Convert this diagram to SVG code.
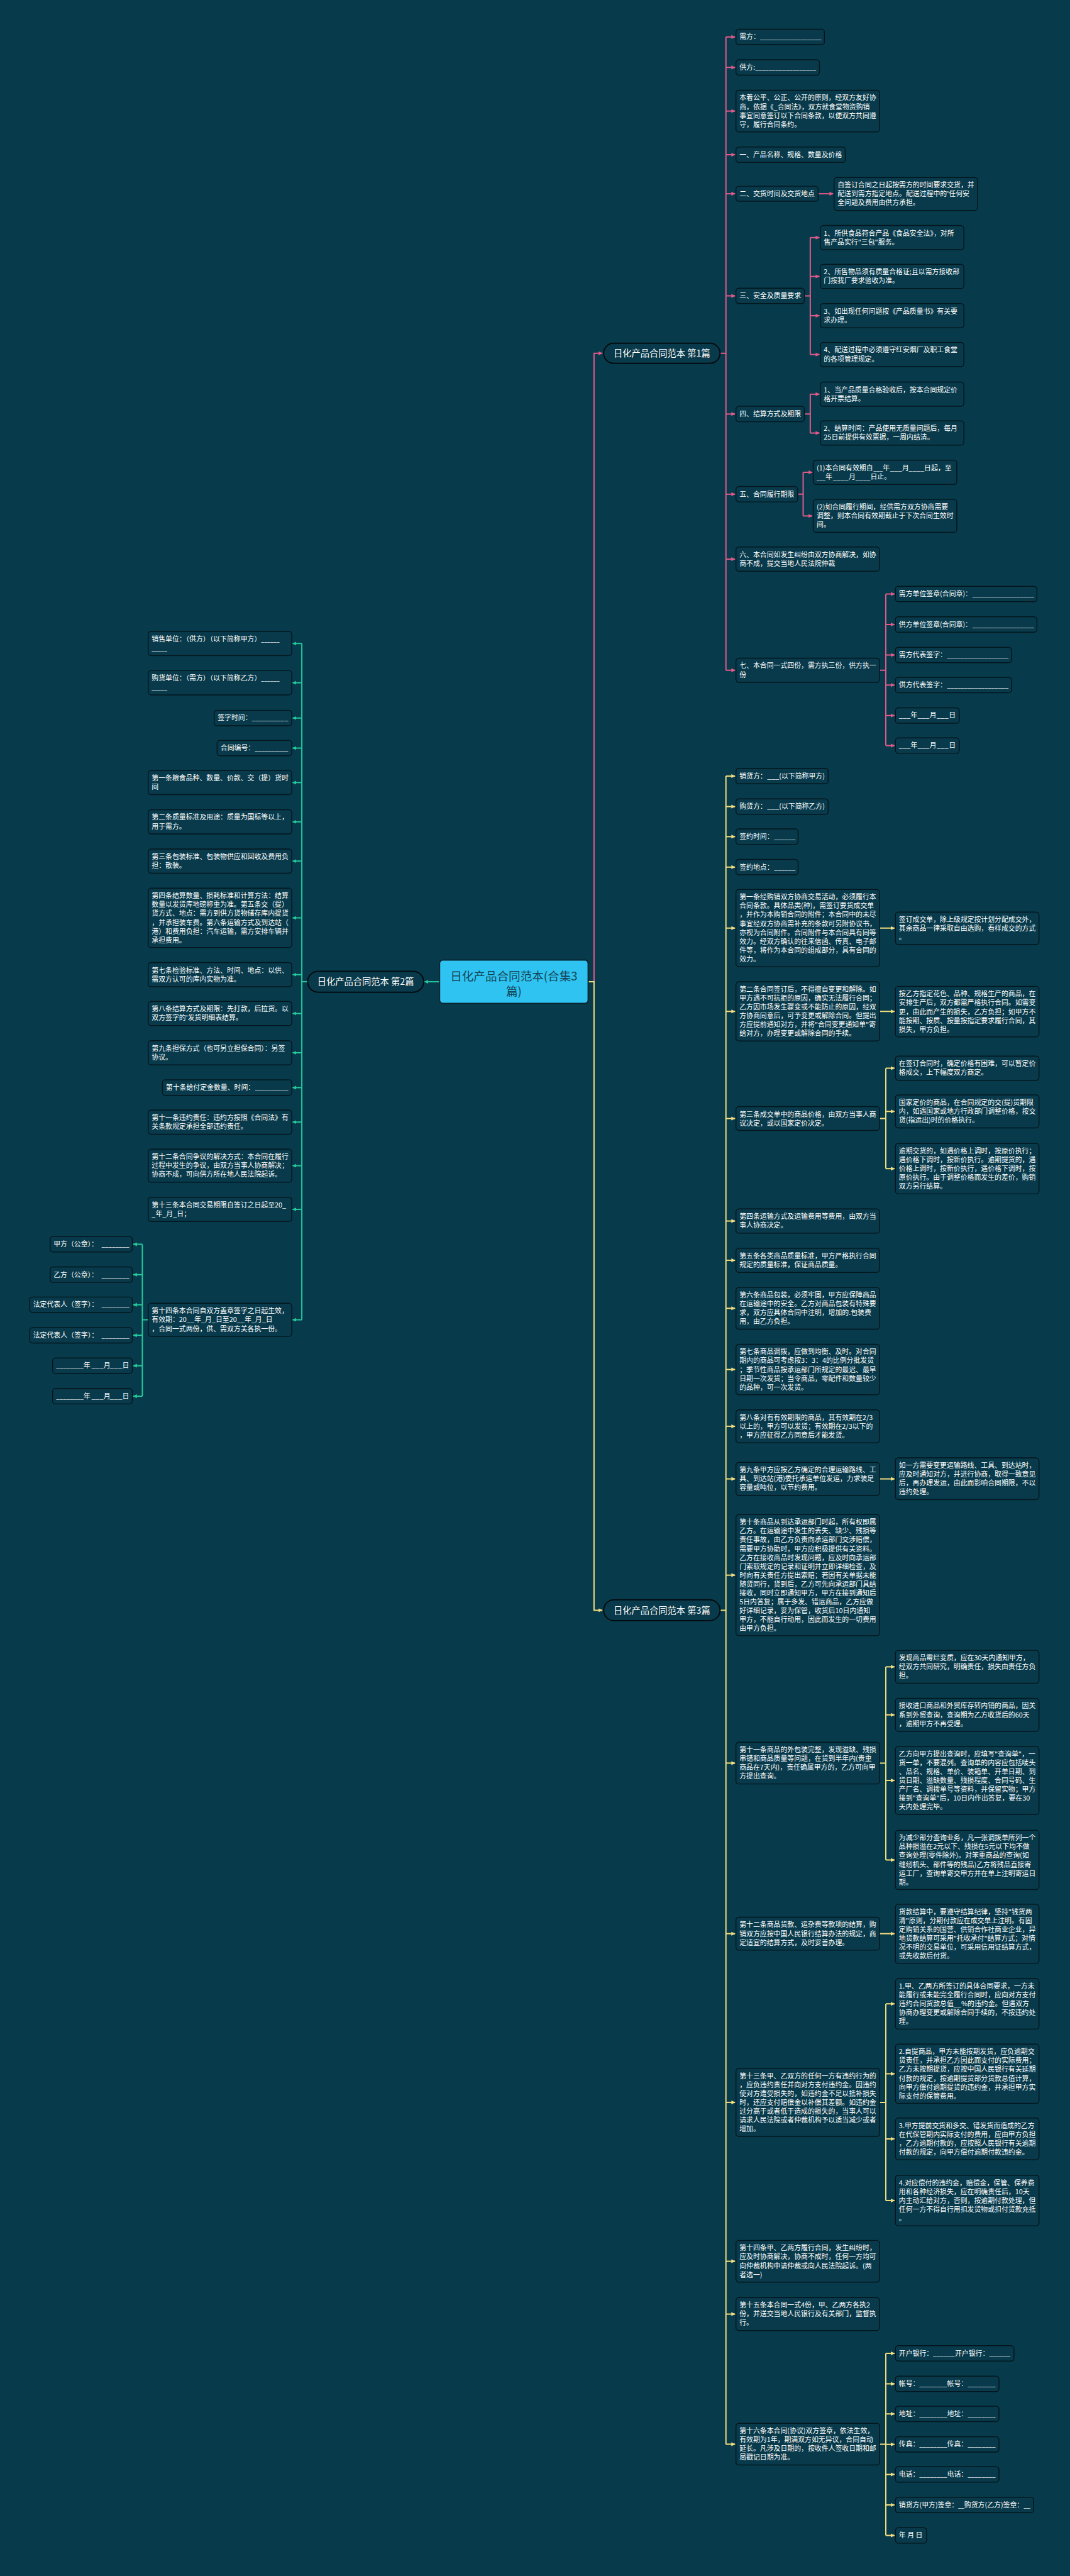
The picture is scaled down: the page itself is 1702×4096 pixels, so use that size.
<svg xmlns="http://www.w3.org/2000/svg" width="1702" height="4096" viewBox="0 0 1702 4096">
<style>
.n rect{fill:#083a4b;stroke:#03161d;stroke-width:2.2}
.n text{font-family:"Noto Sans CJK SC","Noto Sans",sans-serif;font-size:16.4px;fill:#ffffff}
.b rect{fill:#083a4b;stroke:#020c10;stroke-width:3}
.b text{font-family:"Noto Sans CJK SC","Noto Sans",sans-serif;font-size:21.5px;fill:#ffffff;text-anchor:middle}
.ct rect{fill:#2fc3f1;stroke:#0a2530;stroke-width:3}
.ct text{font-family:"Noto Sans CJK SC","Noto Sans",sans-serif;font-size:28px;fill:#154456;text-anchor:middle}
.lp{stroke:#e25a8a;stroke-width:3;fill:none}
.ly{stroke:#f3de7e;stroke-width:3;fill:none}
.lg{stroke:#25c99c;stroke-width:3;fill:none}
</style>
<defs>
<marker id="ap" markerUnits="userSpaceOnUse" viewBox="0 0 10 10" markerWidth="10" markerHeight="10" refX="9" refY="5" orient="auto"><path d="M0,0.5L10,5L0,9.5z" fill="#e25a8a"/></marker>
<marker id="ay" markerUnits="userSpaceOnUse" viewBox="0 0 10 10" markerWidth="10" markerHeight="10" refX="9" refY="5" orient="auto"><path d="M0,0.5L10,5L0,9.5z" fill="#f3de7e"/></marker>
<marker id="ag" markerUnits="userSpaceOnUse" viewBox="0 0 10 10" markerWidth="10" markerHeight="10" refX="9" refY="5" orient="auto"><path d="M0,0.5L10,5L0,9.5z" fill="#25c99c"/></marker>
</defs>
<rect x="0" y="0" width="1702" height="4096" fill="#073b4c"/>
<g transform="scale(0.664)">

<g id="connectors">
<path class="lp" d="M1409,2351H1423V846H1443" marker-end="url(#ap)"/>
<path class="lp" d="M1725,846H1739M1739,88.5V1605"/>
<path class="lp" d="M1739,88.5H1761" marker-end="url(#ap)"/>
<path class="lp" d="M1739,161.5H1761" marker-end="url(#ap)"/>
<path class="lp" d="M1739,266H1761" marker-end="url(#ap)"/>
<path class="lp" d="M1739,370.5H1761" marker-end="url(#ap)"/>
<path class="lp" d="M1739,464H1761" marker-end="url(#ap)"/>
<path class="lp" d="M1739,708.5H1761" marker-end="url(#ap)"/>
<path class="lp" d="M1739,991.5H1761" marker-end="url(#ap)"/>
<path class="lp" d="M1739,1183.5H1761" marker-end="url(#ap)"/>
<path class="lp" d="M1739,1339H1761" marker-end="url(#ap)"/>
<path class="lp" d="M1739,1605H1761" marker-end="url(#ap)"/>
<path class="lp" d="M1960,464H1996" marker-end="url(#ap)"/>
<path class="lp" d="M1927,708.5H1941M1941,569V849"/>
<path class="lp" d="M1941,569H1963" marker-end="url(#ap)"/>
<path class="lp" d="M1941,662H1963" marker-end="url(#ap)"/>
<path class="lp" d="M1941,756H1963" marker-end="url(#ap)"/>
<path class="lp" d="M1941,849H1963" marker-end="url(#ap)"/>
<path class="lp" d="M1927,991.5H1941M1941,944V1037"/>
<path class="lp" d="M1941,944H1963" marker-end="url(#ap)"/>
<path class="lp" d="M1941,1037H1963" marker-end="url(#ap)"/>
<path class="lp" d="M1911,1183.5H1924M1924,1131V1235.5"/>
<path class="lp" d="M1924,1131H1946" marker-end="url(#ap)"/>
<path class="lp" d="M1924,1235.5H1946" marker-end="url(#ap)"/>
<path class="lp" d="M2107,1605H2122M2122,1422.5V1785.5"/>
<path class="lp" d="M2122,1422.5H2143" marker-end="url(#ap)"/>
<path class="lp" d="M2122,1495.5H2143" marker-end="url(#ap)"/>
<path class="lp" d="M2122,1568.5H2143" marker-end="url(#ap)"/>
<path class="lp" d="M2122,1640.5H2143" marker-end="url(#ap)"/>
<path class="lp" d="M2122,1713.5H2143" marker-end="url(#ap)"/>
<path class="lp" d="M2122,1785.5H2143" marker-end="url(#ap)"/>
<path class="ly" d="M1409,2351H1423V3856H1443" marker-end="url(#ay)"/>
<path class="ly" d="M1725,3856H1739M1739,1858.5V5853"/>
<path class="ly" d="M1739,1858.5H1761" marker-end="url(#ay)"/>
<path class="ly" d="M1739,1931.5H1761" marker-end="url(#ay)"/>
<path class="ly" d="M1739,2003.5H1761" marker-end="url(#ay)"/>
<path class="ly" d="M1739,2076.5H1761" marker-end="url(#ay)"/>
<path class="ly" d="M1739,2222.5H1761" marker-end="url(#ay)"/>
<path class="ly" d="M1739,2422H1761" marker-end="url(#ay)"/>
<path class="ly" d="M1739,2678.5H1761" marker-end="url(#ay)"/>
<path class="ly" d="M1739,2924H1761" marker-end="url(#ay)"/>
<path class="ly" d="M1739,3018H1761" marker-end="url(#ay)"/>
<path class="ly" d="M1739,3133H1761" marker-end="url(#ay)"/>
<path class="ly" d="M1739,3279.5H1761" marker-end="url(#ay)"/>
<path class="ly" d="M1739,3415.5H1761" marker-end="url(#ay)"/>
<path class="ly" d="M1739,3541.5H1761" marker-end="url(#ay)"/>
<path class="ly" d="M1739,3772H1761" marker-end="url(#ay)"/>
<path class="ly" d="M1739,4222H1761" marker-end="url(#ay)"/>
<path class="ly" d="M1739,4630.5H1761" marker-end="url(#ay)"/>
<path class="ly" d="M1739,5034.5H1761" marker-end="url(#ay)"/>
<path class="ly" d="M1739,5415H1761" marker-end="url(#ay)"/>
<path class="ly" d="M1739,5541.5H1761" marker-end="url(#ay)"/>
<path class="ly" d="M1739,5853H1761" marker-end="url(#ay)"/>
<path class="ly" d="M2107,2222.5H2143" marker-end="url(#ay)"/>
<path class="ly" d="M2107,2422H2143" marker-end="url(#ay)"/>
<path class="ly" d="M2107,2678.5H2122M2122,2558V2798.5"/>
<path class="ly" d="M2122,2558H2143" marker-end="url(#ay)"/>
<path class="ly" d="M2122,2661.5H2143" marker-end="url(#ay)"/>
<path class="ly" d="M2122,2798.5H2143" marker-end="url(#ay)"/>
<path class="ly" d="M2107,3541.5H2143" marker-end="url(#ay)"/>
<path class="ly" d="M2107,4222H2122M2122,3991.5V4454"/>
<path class="ly" d="M2122,3991.5H2143" marker-end="url(#ay)"/>
<path class="ly" d="M2122,4106.5H2143" marker-end="url(#ay)"/>
<path class="ly" d="M2122,4263.5H2143" marker-end="url(#ay)"/>
<path class="ly" d="M2122,4454H2143" marker-end="url(#ay)"/>
<path class="ly" d="M2107,4630.5H2143" marker-end="url(#ay)"/>
<path class="ly" d="M2107,5034.5H2122M2122,4798.5V5269.5"/>
<path class="ly" d="M2122,4798.5H2143" marker-end="url(#ay)"/>
<path class="ly" d="M2122,4966H2143" marker-end="url(#ay)"/>
<path class="ly" d="M2122,5122H2143" marker-end="url(#ay)"/>
<path class="ly" d="M2122,5269.5H2143" marker-end="url(#ay)"/>
<path class="ly" d="M2107,5853H2122M2122,5635.5V6071.5"/>
<path class="ly" d="M2122,5635.5H2143" marker-end="url(#ay)"/>
<path class="ly" d="M2122,5708.5H2143" marker-end="url(#ay)"/>
<path class="ly" d="M2122,5780.5H2143" marker-end="url(#ay)"/>
<path class="ly" d="M2122,5853.5H2143" marker-end="url(#ay)"/>
<path class="ly" d="M2122,5925.5H2143" marker-end="url(#ay)"/>
<path class="ly" d="M2122,5998.5H2143" marker-end="url(#ay)"/>
<path class="ly" d="M2122,6071.5H2143" marker-end="url(#ay)"/>
<path class="lg" d="M1053,2351H1017" marker-end="url(#ag)"/>
<path class="lg" d="M737,2351H723M723,1541V3160.5"/>
<path class="lg" d="M723,1541H701" marker-end="url(#ag)"/>
<path class="lg" d="M723,1635H701" marker-end="url(#ag)"/>
<path class="lg" d="M723,1719.5H701" marker-end="url(#ag)"/>
<path class="lg" d="M723,1791.5H701" marker-end="url(#ag)"/>
<path class="lg" d="M723,1874H701" marker-end="url(#ag)"/>
<path class="lg" d="M723,1968H701" marker-end="url(#ag)"/>
<path class="lg" d="M723,2062H701" marker-end="url(#ag)"/>
<path class="lg" d="M723,2198H701" marker-end="url(#ag)"/>
<path class="lg" d="M723,2334H701" marker-end="url(#ag)"/>
<path class="lg" d="M723,2427H701" marker-end="url(#ag)"/>
<path class="lg" d="M723,2521H701" marker-end="url(#ag)"/>
<path class="lg" d="M723,2604.5H701" marker-end="url(#ag)"/>
<path class="lg" d="M723,2687H701" marker-end="url(#ag)"/>
<path class="lg" d="M723,2791.5H701" marker-end="url(#ag)"/>
<path class="lg" d="M723,2896H701" marker-end="url(#ag)"/>
<path class="lg" d="M723,3160.5H701" marker-end="url(#ag)"/>
<path class="lg" d="M355,3160.5H341M341,2979.5V3343.5"/>
<path class="lg" d="M341,2979.5H319" marker-end="url(#ag)"/>
<path class="lg" d="M341,3052.5H319" marker-end="url(#ag)"/>
<path class="lg" d="M341,3124.5H319" marker-end="url(#ag)"/>
<path class="lg" d="M341,3197.5H319" marker-end="url(#ag)"/>
<path class="lg" d="M341,3270.5H319" marker-end="url(#ag)"/>
<path class="lg" d="M341,3343.5H319" marker-end="url(#ag)"/>
</g>

<g id="center" class="ct"><rect x="1053" y="2299" width="356" height="104" rx="8"/><text x="1231" y="2347.6"><tspan x="1231">日化产品合同范本(合集3</tspan><tspan x="1231" dy="36">篇)</tspan></text></g>
<g id="branch1" class="b"><rect x="1446" y="822" width="279" height="48" rx="24"/><text x="1585.5" y="854">日化产品合同范本 第1篇</text></g>
<g id="branch2" class="b"><rect x="737" y="2326" width="278" height="50" rx="25"/><text x="876" y="2359">日化产品合同范本 第2篇</text></g>
<g id="branch3" class="b"><rect x="1446" y="3831" width="279" height="50" rx="25"/><text x="1585.5" y="3864">日化产品合同范本 第3篇</text></g>

<g id="p1-1" class="n"><rect x="1763" y="70" width="212" height="37" rx="7"/><text x="1771.4" y="94.1">需方：<tspan x="1820.6" textLength="147" lengthAdjust="spacingAndGlyphs">__________________</tspan></text></g>
<g id="p1-2" class="n"><rect x="1763" y="143" width="200" height="37" rx="7"/><text x="1771.4" y="167.1">供方:<tspan x="1809" textLength="146" lengthAdjust="spacingAndGlyphs">__________________</tspan></text></g>
<g id="p1-3" class="n"><rect x="1763" y="216" width="344" height="100" rx="7"/><text x="1771.4" y="240.1"><tspan x="1771.4">本着公平、公正、公开的原则，经双方友好协</tspan><tspan x="1771.4" dy="21.2">商，依据《_合同法》，双方就食堂物资购销</tspan><tspan x="1771.4" dy="21.2">事宜同意签订以下合同条款，以便双方共同遵</tspan><tspan x="1771.4" dy="21.2">守，履行合同条约。</tspan></text></g>
<g id="p1-4" class="n"><rect x="1763" y="352" width="262" height="37" rx="7"/><text x="1771.4" y="376.1">一、产品名称、规格、数量及价格</text></g>
<g id="p1-5" class="n"><rect x="1763" y="446" width="197" height="36" rx="7"/><text x="1771.4" y="470.1">二、交货时间及交货地点</text></g>
<g id="p1-5a" class="n"><rect x="1998" y="425" width="344" height="79" rx="7"/><text x="2006.4" y="449.1"><tspan x="2006.4">自签订合同之日起按需方的时间要求交货，并</tspan><tspan x="2006.4" dy="21.2">配送到需方指定地点。配送过程中的'任何安</tspan><tspan x="2006.4" dy="21.2">全问题及费用由供方承担。</tspan></text></g>
<g id="p1-6" class="n"><rect x="1763" y="690" width="164" height="37" rx="7"/><text x="1771.4" y="714.1">三、安全及质量要求</text></g>
<g id="p1-6a" class="n"><rect x="1965" y="540" width="344" height="58" rx="7"/><text x="1973.4" y="564.1"><tspan x="1973.4">1、所供食品符合产品《食品安全法》，对所</tspan><tspan x="1973.4" dy="21.2">售产品实行"三包"服务。</tspan></text></g>
<g id="p1-6b" class="n"><rect x="1965" y="633" width="344" height="58" rx="7"/><text x="1973.4" y="657.1"><tspan x="1973.4">2、所售物品须有质量合格证;且以需方接收部</tspan><tspan x="1973.4" dy="21.2">门按我厂要求验收为准。</tspan></text></g>
<g id="p1-6c" class="n"><rect x="1965" y="727" width="344" height="58" rx="7"/><text x="1973.4" y="751.1"><tspan x="1973.4">3、如出现任何问题按《产品质量书》有关要</tspan><tspan x="1973.4" dy="21.2">求办理。</tspan></text></g>
<g id="p1-6d" class="n"><rect x="1965" y="820" width="344" height="58" rx="7"/><text x="1973.4" y="844.1"><tspan x="1973.4">4、配送过程中必须遵守红安烟厂及职工食堂</tspan><tspan x="1973.4" dy="21.2">的各项管理规定。</tspan></text></g>
<g id="p1-7" class="n"><rect x="1763" y="973" width="164" height="37" rx="7"/><text x="1771.4" y="997.1">四、结算方式及期限</text></g>
<g id="p1-7a" class="n"><rect x="1965" y="915" width="344" height="58" rx="7"/><text x="1973.4" y="939.1"><tspan x="1973.4">1、当产品质量合格验收后，按本合同规定价</tspan><tspan x="1973.4" dy="21.2">格开票结算。</tspan></text></g>
<g id="p1-7b" class="n"><rect x="1965" y="1008" width="344" height="58" rx="7"/><text x="1973.4" y="1032.1"><tspan x="1973.4">2、结算时间：产品使用无质量问题后，每月</tspan><tspan x="1973.4" dy="21.2">25日前提供有效票据，一周内结清。</tspan></text></g>
<g id="p1-8" class="n"><rect x="1763" y="1165" width="148" height="37" rx="7"/><text x="1771.4" y="1189.1">五、合同履行期限</text></g>
<g id="p1-8a" class="n"><rect x="1948" y="1102" width="344" height="58" rx="7"/><text x="1956.4" y="1126.1">(1)本合同有效期自<tspan x="2092.4" textLength="22.5" lengthAdjust="spacingAndGlyphs">___</tspan><tspan x="2115">年</tspan><tspan x="2132" textLength="29" lengthAdjust="spacingAndGlyphs">___</tspan><tspan x="2161">月</tspan><tspan x="2176.6" textLength="37.6" lengthAdjust="spacingAndGlyphs">____</tspan><tspan x="2214">日起，至</tspan><tspan x="1956.4" y="1147.3" textLength="21" lengthAdjust="spacingAndGlyphs">___</tspan><tspan x="1977.3" y="1147.3">年</tspan><tspan x="1995" y="1147.3" textLength="37.6" lengthAdjust="spacingAndGlyphs">____</tspan><tspan x="2033" y="1147.3">月</tspan><tspan x="2049.5" y="1147.3" textLength="35.6" lengthAdjust="spacingAndGlyphs">____</tspan><tspan x="2085" y="1147.3">日止。</tspan></text></g>
<g id="p1-8b" class="n"><rect x="1948" y="1196" width="344" height="79" rx="7"/><text x="1956.4" y="1220.1"><tspan x="1956.4">(2)如合同履行期间，经供需方双方协商需要</tspan><tspan x="1956.4" dy="21.2">调整，则本合同有效期截止于下次合同生效时</tspan><tspan x="1956.4" dy="21.2">间。</tspan></text></g>
<g id="p1-9" class="n"><rect x="1763" y="1310" width="344" height="58" rx="7"/><text x="1771.4" y="1334.1"><tspan x="1771.4">六、本合同如发生纠纷由双方协商解决，如协</tspan><tspan x="1771.4" dy="21.2">商不成，提交当地人民法院仲裁</tspan></text></g>
<g id="p1-10" class="n"><rect x="1763" y="1576" width="344" height="58" rx="7"/><text x="1771.4" y="1600.1"><tspan x="1771.4">七、本合同一式四份，需方执三份，供方执一</tspan><tspan x="1771.4" dy="21.2">份</tspan></text></g>
<g id="p1-10a" class="n"><rect x="2145" y="1404" width="339" height="37" rx="7"/><text x="2153.4" y="1428.1">需方单位签章(合同章)：<tspan x="2329.3" textLength="147.7" lengthAdjust="spacingAndGlyphs">__________________</tspan></text></g>
<g id="p1-10b" class="n"><rect x="2145" y="1477" width="339" height="37" rx="7"/><text x="2153.4" y="1501.1">供方单位签章(合同章)：<tspan x="2329.3" textLength="147.7" lengthAdjust="spacingAndGlyphs">__________________</tspan></text></g>
<g id="p1-10c" class="n"><rect x="2145" y="1550" width="278" height="37" rx="7"/><text x="2153.4" y="1574.1">需方代表签字：<tspan x="2269" textLength="147" lengthAdjust="spacingAndGlyphs">__________________</tspan></text></g>
<g id="p1-10d" class="n"><rect x="2145" y="1622" width="278" height="37" rx="7"/><text x="2153.4" y="1646.1">供方代表签字：<tspan x="2269" textLength="147" lengthAdjust="spacingAndGlyphs">__________________</tspan></text></g>
<g id="p1-10e" class="n"><rect x="2145" y="1695" width="153" height="37" rx="7"/><text x="2153.4" y="1719.1"><tspan x="2153.4" textLength="28" lengthAdjust="spacingAndGlyphs">___</tspan><tspan x="2181.5">年</tspan><tspan x="2198" textLength="28.5" lengthAdjust="spacingAndGlyphs">___</tspan><tspan x="2227">月</tspan><tspan x="2244" textLength="28.5" lengthAdjust="spacingAndGlyphs">___</tspan><tspan x="2273">日</tspan></text></g>
<g id="p1-10f" class="n"><rect x="2145" y="1767" width="153" height="37" rx="7"/><text x="2153.4" y="1791.1"><tspan x="2153.4" textLength="28" lengthAdjust="spacingAndGlyphs">___</tspan><tspan x="2181.5">年</tspan><tspan x="2198" textLength="28.5" lengthAdjust="spacingAndGlyphs">___</tspan><tspan x="2227">月</tspan><tspan x="2244" textLength="28.5" lengthAdjust="spacingAndGlyphs">___</tspan><tspan x="2273">日</tspan></text></g>

<g id="p3-1" class="n"><rect x="1763" y="1840" width="221" height="37" rx="7"/><text x="1771.4" y="1864.1">销货方：<tspan x="1837.7" textLength="29" lengthAdjust="spacingAndGlyphs">___</tspan><tspan x="1866.4">(以下简称甲方)</tspan></text></g>
<g id="p3-2" class="n"><rect x="1763" y="1913" width="221" height="37" rx="7"/><text x="1771.4" y="1937.1">购货方：<tspan x="1837.7" textLength="29" lengthAdjust="spacingAndGlyphs">___</tspan><tspan x="1866.4">(以下简称乙方)</tspan></text></g>
<g id="p3-3" class="n"><rect x="1763" y="1985" width="149" height="37" rx="7"/><text x="1771.4" y="2009.1">签约时间：<tspan x="1854.4" textLength="51" lengthAdjust="spacingAndGlyphs">______</tspan></text></g>
<g id="p3-4" class="n"><rect x="1763" y="2058" width="149" height="37" rx="7"/><text x="1771.4" y="2082.1">签约地点：<tspan x="1854.4" textLength="51" lengthAdjust="spacingAndGlyphs">______</tspan></text></g>
<g id="p3-5" class="n"><rect x="1763" y="2130" width="344" height="185" rx="7"/><text x="1771.4" y="2154.1"><tspan x="1771.4">第一条经购销双方协商交易活动，必须履行本</tspan><tspan x="1771.4" dy="21.2">合同条款。具体品类(种)，需签订要货成交单</tspan><tspan x="1771.4" dy="21.2">，并作为本购销合同的附件；本合同中的未尽</tspan><tspan x="1771.4" dy="21.2">事宜经双方协商需补充的条款可另附协议书，</tspan><tspan x="1771.4" dy="21.2">亦视为合同附件。合同附件与本合同具有同等</tspan><tspan x="1771.4" dy="21.2">效力。经双方确认的往来信函、传真、电子邮</tspan><tspan x="1771.4" dy="21.2">件等，将作为本合同的组成部分，具有合同的</tspan><tspan x="1771.4" dy="21.2">效力。</tspan></text></g>
<g id="p3-5a" class="n"><rect x="2145" y="2184" width="344" height="78" rx="7"/><text x="2153.4" y="2208.1"><tspan x="2153.4">签订成交单，除上级规定按计划分配成交外，</tspan><tspan x="2153.4" dy="21.2">其余商品一律采取自由选购，看样成交的方式</tspan><tspan x="2153.4" dy="21.2">。</tspan></text></g>
<g id="p3-6" class="n"><rect x="1763" y="2351" width="344" height="142" rx="7"/><text x="1771.4" y="2375.1"><tspan x="1771.4">第二条合同签订后，不得擅自变更和解除。如</tspan><tspan x="1771.4" dy="21.2">甲方遇不可抗拒的原因，确实无法履行合同；</tspan><tspan x="1771.4" dy="21.2">乙方因市场发生骤变或不能防止的原因，经双</tspan><tspan x="1771.4" dy="21.2">方协商同意后，可予变更或解除合同。但提出</tspan><tspan x="1771.4" dy="21.2">方应提前通知对方，并将"合同变更通知单"寄</tspan><tspan x="1771.4" dy="21.2">给对方，办理变更或解除合同的手续。</tspan></text></g>
<g id="p3-6a" class="n"><rect x="2145" y="2362" width="344" height="121" rx="7"/><text x="2153.4" y="2386.1"><tspan x="2153.4">按乙方指定花色、品种、规格生产的商品，在</tspan><tspan x="2153.4" dy="21.2">安排生产后，双方都需严格执行合同。如需变</tspan><tspan x="2153.4" dy="21.2">更，由此而产生的损失，乙方负担；如甲方不</tspan><tspan x="2153.4" dy="21.2">能按期、按质、按量按指定要求履行合同，其</tspan><tspan x="2153.4" dy="21.2">损失，甲方负担。</tspan></text></g>
<g id="p3-7" class="n"><rect x="1763" y="2650" width="344" height="57" rx="7"/><text x="1771.4" y="2674.1"><tspan x="1771.4">第三条成交单中的商品价格，由双方当事人商</tspan><tspan x="1771.4" dy="21.2">议决定，或以国家定价决定。</tspan></text></g>
<g id="p3-7a" class="n"><rect x="2145" y="2529" width="344" height="58" rx="7"/><text x="2153.4" y="2553.1"><tspan x="2153.4">在签订合同时，确定价格有困难，可以暂定价</tspan><tspan x="2153.4" dy="21.2">格成交，上下幅度双方商定。</tspan></text></g>
<g id="p3-7b" class="n"><rect x="2145" y="2622" width="344" height="79" rx="7"/><text x="2153.4" y="2646.1"><tspan x="2153.4">国家定价的商品，在合同规定的交(提)货期限</tspan><tspan x="2153.4" dy="21.2">内，如遇国家或地方行政部门调整价格，按交</tspan><tspan x="2153.4" dy="21.2">货(指运出)时的价格执行。</tspan></text></g>
<g id="p3-7c" class="n"><rect x="2145" y="2738" width="344" height="121" rx="7"/><text x="2153.4" y="2762.1"><tspan x="2153.4">逾期交货的，如遇价格上调时，按原价执行；</tspan><tspan x="2153.4" dy="21.2">遇价格下调时，按新价执行。逾期提货的，遇</tspan><tspan x="2153.4" dy="21.2">价格上调时，按新价执行，遇价格下调时，按</tspan><tspan x="2153.4" dy="21.2">原价执行。由于调整价格而发生的差价，购销</tspan><tspan x="2153.4" dy="21.2">双方另行结算。</tspan></text></g>
<g id="p3-8" class="n"><rect x="1763" y="2895" width="344" height="58" rx="7"/><text x="1771.4" y="2919.1"><tspan x="1771.4">第四条运输方式及运输费用等费用，由双方当</tspan><tspan x="1771.4" dy="21.2">事人协商决定。</tspan></text></g>
<g id="p3-9" class="n"><rect x="1763" y="2989" width="344" height="58" rx="7"/><text x="1771.4" y="3013.1"><tspan x="1771.4">第五条各类商品质量标准，甲方严格执行合同</tspan><tspan x="1771.4" dy="21.2">规定的质量标准，保证商品质量。</tspan></text></g>
<g id="p3-10" class="n"><rect x="1763" y="3083" width="344" height="100" rx="7"/><text x="1771.4" y="3107.1"><tspan x="1771.4">第六条商品包装，必须牢固，甲方应保障商品</tspan><tspan x="1771.4" dy="21.2">在运输途中的安全。乙方对商品包装有特殊要</tspan><tspan x="1771.4" dy="21.2">求，双方应具体合同中注明，增加的.包装费</tspan><tspan x="1771.4" dy="21.2">用，由乙方负担。</tspan></text></g>
<g id="p3-11" class="n"><rect x="1763" y="3219" width="344" height="121" rx="7"/><text x="1771.4" y="3243.1"><tspan x="1771.4">第七条商品调拨，应做到均衡、及时。对合同</tspan><tspan x="1771.4" dy="21.2">期内的商品可考虑按3：3：4的比例分批发货</tspan><tspan x="1771.4" dy="21.2">；季节性商品按承运部门所规定的最迟、最早</tspan><tspan x="1771.4" dy="21.2">日期一次发货；当令商品，零配件和数量较少</tspan><tspan x="1771.4" dy="21.2">的品种，可一次发货。</tspan></text></g>
<g id="p3-12" class="n"><rect x="1763" y="3376" width="344" height="79" rx="7"/><text x="1771.4" y="3400.1"><tspan x="1771.4">第八条对有有效期限的商品，其有效期在2/3</tspan><tspan x="1771.4" dy="21.2">以上的，甲方可以发货；有效期在2/3以下的</tspan><tspan x="1771.4" dy="21.2">，甲方应征得乙方同意后才能发货。</tspan></text></g>
<g id="p3-13" class="n"><rect x="1763" y="3502" width="344" height="79" rx="7"/><text x="1771.4" y="3526.1"><tspan x="1771.4">第九条甲方应按乙方确定的合理运输路线、工</tspan><tspan x="1771.4" dy="21.2">具、到达站(港)委托承运单位发运，力求装足</tspan><tspan x="1771.4" dy="21.2">容量或吨位，以节约费用。</tspan></text></g>
<g id="p3-13a" class="n"><rect x="2145" y="3491" width="344" height="100" rx="7"/><text x="2153.4" y="3515.1"><tspan x="2153.4">如一方需要变更运输路线、工具、到达站时，</tspan><tspan x="2153.4" dy="21.2">应及时通知对方，并进行协商，取得一致意见</tspan><tspan x="2153.4" dy="21.2">后，再办理发运，由此而影响合同期限，不以</tspan><tspan x="2153.4" dy="21.2">违约处理。</tspan></text></g>
<g id="p3-14" class="n"><rect x="1763" y="3627" width="344" height="290" rx="7"/><text x="1771.4" y="3651.1"><tspan x="1771.4">第十条商品从到达承运部门时起，所有权即属</tspan><tspan x="1771.4" dy="21.2">乙方。在运输途中发生的丢失、缺少、残损等</tspan><tspan x="1771.4" dy="21.2">责任事故，由乙方负责向承运部门交涉赔偿，</tspan><tspan x="1771.4" dy="21.2">需要甲方协助时，甲方应积极提供有关资料。</tspan><tspan x="1771.4" dy="21.2">乙方在接收商品时发现问题，应及时向承运部</tspan><tspan x="1771.4" dy="21.2">门索取规定的记录和证明并立即详细检查，及</tspan><tspan x="1771.4" dy="21.2">时向有关责任方提出索赔；若因有关单据未能</tspan><tspan x="1771.4" dy="21.2">随货同行，货到后，乙方可先向承运部门具结</tspan><tspan x="1771.4" dy="21.2">接收，同时立即通知甲方，甲方在接到通知后</tspan><tspan x="1771.4" dy="21.2">5日内答复；属于多发、错运商品，乙方应做</tspan><tspan x="1771.4" dy="21.2">好详细记录，妥为保管，收货后10日内通知</tspan><tspan x="1771.4" dy="21.2">甲方，不能自行动用，因此而发生的一切费用</tspan><tspan x="1771.4" dy="21.2">由甲方负担。</tspan></text></g>
<g id="p3-15" class="n"><rect x="1763" y="4172" width="344" height="100" rx="7"/><text x="1771.4" y="4196.1"><tspan x="1771.4">第十一条商品的外包装完整，发现溢缺、残损</tspan><tspan x="1771.4" dy="21.2">串错和商品质量等问题，在货到半年内(贵重</tspan><tspan x="1771.4" dy="21.2">商品在7天内)，责任确属甲方的，乙方可向甲</tspan><tspan x="1771.4" dy="21.2">方提出查询。</tspan></text></g>
<g id="p3-15a" class="n"><rect x="2145" y="3952" width="344" height="79" rx="7"/><text x="2153.4" y="3976.1"><tspan x="2153.4">发现商品霉烂变质，应在30天内通知甲方，</tspan><tspan x="2153.4" dy="21.2">经双方共同研究，明确责任，损失由责任方负</tspan><tspan x="2153.4" dy="21.2">担。</tspan></text></g>
<g id="p3-15b" class="n"><rect x="2145" y="4067" width="344" height="79" rx="7"/><text x="2153.4" y="4091.1"><tspan x="2153.4">接收进口商品和外贸库存转内销的商品，因关</tspan><tspan x="2153.4" dy="21.2">系到外贸查询，查询期为乙方收货后的60天</tspan><tspan x="2153.4" dy="21.2">，逾期甲方不再受理。</tspan></text></g>
<g id="p3-15c" class="n"><rect x="2145" y="4182" width="344" height="163" rx="7"/><text x="2153.4" y="4206.1"><tspan x="2153.4">乙方向甲方提出查询时，应填写"查询单"，一</tspan><tspan x="2153.4" dy="21.2">货一单，不要混列。查询单的内容应包括唛头</tspan><tspan x="2153.4" dy="21.2">、品名、规格、单价、装箱单、开单日期、到</tspan><tspan x="2153.4" dy="21.2">货日期、溢缺数量、残损程度、合同号码、生</tspan><tspan x="2153.4" dy="21.2">产厂名、调拨单号等资料，并保留实物；甲方</tspan><tspan x="2153.4" dy="21.2">接到"查询单"后，10日内作出答复，要在30</tspan><tspan x="2153.4" dy="21.2">天内处理完毕。</tspan></text></g>
<g id="p3-15d" class="n"><rect x="2145" y="4383" width="344" height="142" rx="7"/><text x="2153.4" y="4407.1"><tspan x="2153.4">为减少部分查询业务，凡一张调拨单所列一个</tspan><tspan x="2153.4" dy="21.2">品种损溢在2元以下、残损在5元以下均不做</tspan><tspan x="2153.4" dy="21.2">查询处理(零件除外)。对笨重商品的查询(如</tspan><tspan x="2153.4" dy="21.2">缝纫机头、部件等的残品)乙方将残品直接寄</tspan><tspan x="2153.4" dy="21.2">运工厂，查询单寄交甲方并在单上注明寄运日</tspan><tspan x="2153.4" dy="21.2">期。</tspan></text></g>
<g id="p3-16" class="n"><rect x="1763" y="4591" width="344" height="79" rx="7"/><text x="1771.4" y="4615.1"><tspan x="1771.4">第十二条商品货款、运杂费等款项的结算，购</tspan><tspan x="1771.4" dy="21.2">销双方应按中国人民银行结算办法的规定，商</tspan><tspan x="1771.4" dy="21.2">定适宜的结算方式，及时妥善办理。</tspan></text></g>
<g id="p3-16a" class="n"><rect x="2145" y="4560" width="344" height="142" rx="7"/><text x="2153.4" y="4584.1"><tspan x="2153.4">货款结算中，要遵守结算纪律，坚持"钱货两</tspan><tspan x="2153.4" dy="21.2">清"原则，分期付款应在成交单上注明。有固</tspan><tspan x="2153.4" dy="21.2">定购销关系的国营、供销合作社商业企业，异</tspan><tspan x="2153.4" dy="21.2">地货款结算可采用"托收承付"结算方式；对情</tspan><tspan x="2153.4" dy="21.2">况不明的交易单位，可采用信用证结算方式，</tspan><tspan x="2153.4" dy="21.2">或先收款后付货。</tspan></text></g>
<g id="p3-17" class="n"><rect x="1763" y="4953" width="344" height="163" rx="7"/><text x="1771.4" y="4977.1"><tspan x="1771.4">第十三条甲、乙双方的任何一方有违约行为的</tspan><tspan x="1771.4" dy="21.2">，应负违约责任并向对方支付违约金。因违约</tspan><tspan x="1771.4" dy="21.2">使对方遭受损失的，如违约金不足以抵补损失</tspan><tspan x="1771.4" dy="21.2">时，还应支付赔偿金以补偿其差额。如违约金</tspan><tspan x="1771.4" dy="21.2">过分高于或者低于造成的损失的，当事人可以</tspan><tspan x="1771.4" dy="21.2">请求人民法院或者仲裁机构予以适当减少或者</tspan><tspan x="1771.4" dy="21.2">增加。</tspan></text></g>
<g id="p3-17a" class="n"><rect x="2145" y="4738" width="344" height="121" rx="7"/><text x="2153.4" y="4762.1"><tspan x="2153.4">1.甲、乙两方所签订的具体合同要求，一方未</tspan><tspan x="2153.4" dy="21.2">能履行或未能完全履行合同时，应向对方支付</tspan><tspan x="2153.4" dy="21.2">违约合同货款总值__%的违约金。但遇双方</tspan><tspan x="2153.4" dy="21.2">协商办理变更或解除合同手续的，不按违约处</tspan><tspan x="2153.4" dy="21.2">理。</tspan></text></g>
<g id="p3-17b" class="n"><rect x="2145" y="4895" width="344" height="142" rx="7"/><text x="2153.4" y="4919.1"><tspan x="2153.4">2.自提商品，甲方未能按期发货，应负逾期交</tspan><tspan x="2153.4" dy="21.2">货责任，并承担乙方因此而支付的实际费用；</tspan><tspan x="2153.4" dy="21.2">乙方未按期提货，应按中国人民银行有关延期</tspan><tspan x="2153.4" dy="21.2">付款的规定，按逾期提货部分货款总值计算，</tspan><tspan x="2153.4" dy="21.2">向甲方偿付逾期提货的违约金，并承担甲方实</tspan><tspan x="2153.4" dy="21.2">际支付的保管费用。</tspan></text></g>
<g id="p3-17c" class="n"><rect x="2145" y="5072" width="344" height="100" rx="7"/><text x="2153.4" y="5096.1"><tspan x="2153.4">3.甲方提前交货和多交、错发货而造成的乙方</tspan><tspan x="2153.4" dy="21.2">在代保管期内实际支付的费用，应由甲方负担</tspan><tspan x="2153.4" dy="21.2">，乙方逾期付款的，应按照人民银行有关逾期</tspan><tspan x="2153.4" dy="21.2">付款的规定，向甲方偿付逾期付款违约金。</tspan></text></g>
<g id="p3-17d" class="n"><rect x="2145" y="5209" width="344" height="121" rx="7"/><text x="2153.4" y="5233.1"><tspan x="2153.4">4.对应偿付的违约金，赔偿金，保管、保养费</tspan><tspan x="2153.4" dy="21.2">用和各种经济损失，应在明确责任后，10天</tspan><tspan x="2153.4" dy="21.2">内主动汇给对方，否则，按逾期付款处理，但</tspan><tspan x="2153.4" dy="21.2">任何一方不得自行用扣发货物或扣付货款充抵</tspan><tspan x="2153.4" dy="21.2">。</tspan></text></g>
<g id="p3-18" class="n"><rect x="1763" y="5365" width="344" height="100" rx="7"/><text x="1771.4" y="5389.1"><tspan x="1771.4">第十四条甲、乙两方履行合同，发生纠纷时，</tspan><tspan x="1771.4" dy="21.2">应及时协商解决，协商不成时，任何一方均可</tspan><tspan x="1771.4" dy="21.2">向仲裁机构申请仲裁或向人民法院起诉。(两</tspan><tspan x="1771.4" dy="21.2">者选一)</tspan></text></g>
<g id="p3-19" class="n"><rect x="1763" y="5502" width="344" height="79" rx="7"/><text x="1771.4" y="5526.1"><tspan x="1771.4">第十五条本合同一式4份，甲、乙两方各执2</tspan><tspan x="1771.4" dy="21.2">份，并送交当地人民银行及有关部门，监督执</tspan><tspan x="1771.4" dy="21.2">行。</tspan></text></g>
<g id="p3-20" class="n"><rect x="1763" y="5803" width="344" height="100" rx="7"/><text x="1771.4" y="5827.1"><tspan x="1771.4">第十六条本合同(协议)双方签章，依法生效，</tspan><tspan x="1771.4" dy="21.2">有效期为1年，期满双方如无异议，合同自动</tspan><tspan x="1771.4" dy="21.2">延长。凡涉及日期的，按收件人签收日期和邮</tspan><tspan x="1771.4" dy="21.2">局戳记日期为准。</tspan></text></g>
<g id="p3-20a" class="n"><rect x="2145" y="5617" width="284" height="37" rx="7"/><text x="2153.4" y="5641.1">开户银行：<tspan x="2235" textLength="52" lengthAdjust="spacingAndGlyphs">______</tspan><tspan x="2287.5">开户银行：</tspan><tspan x="2369.6" textLength="51" lengthAdjust="spacingAndGlyphs">______</tspan></text></g>
<g id="p3-20b" class="n"><rect x="2145" y="5690" width="248" height="37" rx="7"/><text x="2153.4" y="5714.1">帐号：<tspan x="2202" textLength="67" lengthAdjust="spacingAndGlyphs">________</tspan><tspan x="2269">帐号：</tspan><tspan x="2318" textLength="67" lengthAdjust="spacingAndGlyphs">________</tspan></text></g>
<g id="p3-20c" class="n"><rect x="2145" y="5762" width="248" height="37" rx="7"/><text x="2153.4" y="5786.1">地址：<tspan x="2202" textLength="67" lengthAdjust="spacingAndGlyphs">________</tspan><tspan x="2269">地址：</tspan><tspan x="2318" textLength="67" lengthAdjust="spacingAndGlyphs">________</tspan></text></g>
<g id="p3-20d" class="n"><rect x="2145" y="5835" width="248" height="37" rx="7"/><text x="2153.4" y="5859.1">传真：<tspan x="2202" textLength="67" lengthAdjust="spacingAndGlyphs">________</tspan><tspan x="2269">传真：</tspan><tspan x="2318" textLength="67" lengthAdjust="spacingAndGlyphs">________</tspan></text></g>
<g id="p3-20e" class="n"><rect x="2145" y="5907" width="248" height="37" rx="7"/><text x="2153.4" y="5931.1">电话：<tspan x="2202" textLength="67" lengthAdjust="spacingAndGlyphs">________</tspan><tspan x="2269">电话：</tspan><tspan x="2318" textLength="67" lengthAdjust="spacingAndGlyphs">________</tspan></text></g>
<g id="p3-20f" class="n"><rect x="2145" y="5980" width="331" height="37" rx="7"/><text x="2153.4" y="6004.1">销货方(甲方)签章：<tspan x="2295" textLength="15" lengthAdjust="spacingAndGlyphs">__</tspan><tspan x="2310">购货方(乙方)签章：</tspan><tspan x="2452" textLength="16" lengthAdjust="spacingAndGlyphs">__</tspan></text></g>
<g id="p3-20g" class="n"><rect x="2145" y="6053" width="75" height="37" rx="7"/><text x="2153.4" y="6077.1">年 月 日</text></g>

<g id="p2-1" class="n"><rect x="355" y="1512" width="344" height="58" rx="7"/><text x="363.4" y="1536.1">销售单位：（供方）（以下简称甲方）<tspan textLength="44" lengthAdjust="spacingAndGlyphs">______</tspan><tspan x="363.4" y="1557.3" textLength="37" lengthAdjust="spacingAndGlyphs">_____</tspan></text></g>
<g id="p2-2" class="n"><rect x="355" y="1606" width="344" height="58" rx="7"/><text x="363.4" y="1630.1">购货单位：（需方）（以下简称乙方）<tspan textLength="44" lengthAdjust="spacingAndGlyphs">______</tspan><tspan x="363.4" y="1651.3" textLength="37" lengthAdjust="spacingAndGlyphs">_____</tspan></text></g>
<g id="p2-3" class="n"><rect x="513" y="1701" width="186" height="37" rx="7"/><text x="521.4" y="1725.1">签字时间：<tspan x="603.4" textLength="87" lengthAdjust="spacingAndGlyphs">__________</tspan></text></g>
<g id="p2-4" class="n"><rect x="520" y="1773" width="179" height="37" rx="7"/><text x="528.4" y="1797.1">合同编号：<tspan x="610.4" textLength="80" lengthAdjust="spacingAndGlyphs">__________</tspan></text></g>
<g id="p2-5" class="n"><rect x="355" y="1845" width="344" height="58" rx="7"/><text x="363.4" y="1869.1"><tspan x="363.4">第一条粮食品种、数量、价款、交（提）货时</tspan><tspan x="363.4" dy="21.2">间</tspan></text></g>
<g id="p2-6" class="n"><rect x="355" y="1939" width="344" height="58" rx="7"/><text x="363.4" y="1963.1"><tspan x="363.4">第二条质量标准及用途：质量为国标等以上，</tspan><tspan x="363.4" dy="21.2">用于需方。</tspan></text></g>
<g id="p2-7" class="n"><rect x="355" y="2033" width="344" height="58" rx="7"/><text x="363.4" y="2057.1"><tspan x="363.4">第三条包装标准、包装物供应和回收及费用负</tspan><tspan x="363.4" dy="21.2">担：散装。</tspan></text></g>
<g id="p2-8" class="n"><rect x="355" y="2127" width="344" height="142" rx="7"/><text x="363.4" y="2151.1"><tspan x="363.4">第四条结算数量、损耗标准和计算方法：结算</tspan><tspan x="363.4" dy="21.2">数量以发货库地磅称重为准。第五条交（提）</tspan><tspan x="363.4" dy="21.2">货方式、地点：需方到供方货物储存库内提货</tspan><tspan x="363.4" dy="21.2">，并承担装车费。第六条运输方式及到达站（</tspan><tspan x="363.4" dy="21.2">港）和费用负担：汽车运输，需方安排车辆并</tspan><tspan x="363.4" dy="21.2">承担费用。</tspan></text></g>
<g id="p2-9" class="n"><rect x="355" y="2305" width="344" height="58" rx="7"/><text x="363.4" y="2329.1"><tspan x="363.4">第七条检验标准、方法、时间、地点：以供、</tspan><tspan x="363.4" dy="21.2">需双方认可的库内实物为准。</tspan></text></g>
<g id="p2-10" class="n"><rect x="355" y="2398" width="344" height="58" rx="7"/><text x="363.4" y="2422.1"><tspan x="363.4">第八条结算方式及期限：先打款，后拉货。以</tspan><tspan x="363.4" dy="21.2">双方签字的'发货明细表结算。</tspan></text></g>
<g id="p2-11" class="n"><rect x="355" y="2492" width="344" height="58" rx="7"/><text x="363.4" y="2516.1"><tspan x="363.4">第九条担保方式（也可另立担保合同）：另签</tspan><tspan x="363.4" dy="21.2">协议。</tspan></text></g>
<g id="p2-12" class="n"><rect x="389" y="2586" width="310" height="37" rx="7"/><text x="397.4" y="2610.1">第十条给付定金数量、时间：<tspan x="610.6" textLength="80" lengthAdjust="spacingAndGlyphs">__________</tspan></text></g>
<g id="p2-13" class="n"><rect x="355" y="2658" width="344" height="58" rx="7"/><text x="363.4" y="2682.1"><tspan x="363.4">第十一条违约责任：违约方按照《合同法》有</tspan><tspan x="363.4" dy="21.2">关条款规定承担全部违约责任。</tspan></text></g>
<g id="p2-14" class="n"><rect x="355" y="2752" width="344" height="79" rx="7"/><text x="363.4" y="2776.1"><tspan x="363.4">第十二条合同争议的解决方式：本合同在履行</tspan><tspan x="363.4" dy="21.2">过程中发生的争议，由双方当事人协商解决；</tspan><tspan x="363.4" dy="21.2">协商不成，可向供方所在地人民法院起诉。</tspan></text></g>
<g id="p2-15" class="n"><rect x="355" y="2867" width="344" height="58" rx="7"/><text x="363.4" y="2891.1"><tspan x="363.4">第十三条本合同交易期限自签订之日起至20_</tspan><tspan x="363.4" dy="21.2">_年_月_日；</tspan></text></g>
<g id="p2-16" class="n"><rect x="355" y="3121" width="344" height="79" rx="7"/><text x="363.4" y="3145.1"><tspan x="363.4">第十四条本合同自双方盖章签字之日起生效，</tspan><tspan x="363.4" dy="21.2">有效期：20__年_月_日至20__年_月_日</tspan><tspan x="363.4" dy="21.2">，合同一式两份，供、需双方关各执一份。</tspan></text></g>
<g id="p2-16a" class="n"><rect x="120" y="2961" width="197" height="37" rx="7"/><text x="128.4" y="2985.1">甲方（公章）：<tspan x="243.2" textLength="66.5" lengthAdjust="spacingAndGlyphs">________</tspan></text></g>
<g id="p2-16b" class="n"><rect x="120" y="3034" width="197" height="37" rx="7"/><text x="128.4" y="3058.1">乙方（公章）：<tspan x="243.2" textLength="66.5" lengthAdjust="spacingAndGlyphs">________</tspan></text></g>
<g id="p2-16c" class="n"><rect x="71" y="3106" width="246" height="37" rx="7"/><text x="79.4" y="3130.1">法定代表人（签字）：<tspan x="243.4" textLength="66.5" lengthAdjust="spacingAndGlyphs">________</tspan></text></g>
<g id="p2-16d" class="n"><rect x="71" y="3179" width="246" height="37" rx="7"/><text x="79.4" y="3203.1">法定代表人（签字）：<tspan x="243.4" textLength="66.5" lengthAdjust="spacingAndGlyphs">________</tspan></text></g>
<g id="p2-16e" class="n"><rect x="126" y="3252" width="191" height="37" rx="7"/><text x="134.4" y="3276.1"><tspan x="134.4" textLength="66" lengthAdjust="spacingAndGlyphs">________</tspan><tspan x="200">年</tspan><tspan x="219" textLength="29" lengthAdjust="spacingAndGlyphs">___</tspan><tspan x="248">月</tspan><tspan x="263" textLength="30" lengthAdjust="spacingAndGlyphs">___</tspan><tspan x="293">日</tspan></text></g>
<g id="p2-16f" class="n"><rect x="126" y="3325" width="191" height="37" rx="7"/><text x="134.4" y="3349.1"><tspan x="134.4" textLength="66" lengthAdjust="spacingAndGlyphs">________</tspan><tspan x="200">年</tspan><tspan x="219" textLength="29" lengthAdjust="spacingAndGlyphs">___</tspan><tspan x="248">月</tspan><tspan x="263" textLength="30" lengthAdjust="spacingAndGlyphs">___</tspan><tspan x="293">日</tspan></text></g>
</g>
</svg>
